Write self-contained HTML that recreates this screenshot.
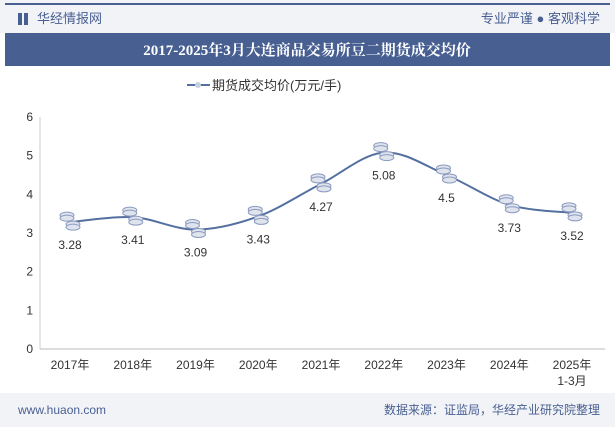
<!DOCTYPE html>
<html><head><meta charset="utf-8"><style>
body{margin:0;width:615px;height:427px;overflow:hidden;background:#fff;font-family:"Liberation Sans","Noto Sans CJK SC",sans-serif;}
</style></head><body>
<svg width="615" height="427" xmlns="http://www.w3.org/2000/svg" id="chart">
<rect x="0" y="0" width="615" height="33" fill="#f2f3f7"/>
<rect x="5" y="3" width="605" height="2" fill="#485f92"/>
<g><rect x="18" y="13" width="4" height="12" fill="#485f92"/><rect x="24" y="13" width="4" height="12" fill="#485f92"/></g>
<text x="37" y="23" font-size="13" fill="#485f92">华经情报网</text>
<text x="600" y="23" font-size="13" fill="#485f92" text-anchor="end">专业严谨 ● 客观科学</text>
<rect x="5" y="33" width="605" height="33" fill="#485f92"/>
<text x="307" y="55" font-size="15" font-weight="bold" fill="#fff" text-anchor="middle" font-family="'Liberation Serif','Noto Serif CJK SC',serif">2017-2025年3月大连商品交易所豆二期货成交均价</text>
<g><line x1="187" y1="85" x2="210" y2="85" stroke="#5470a0" stroke-width="2"/><circle cx="198" cy="85" r="3" fill="#c8d0e0"/><text x="212" y="90" font-size="13" fill="#333">期货成交均价(万元/手)</text></g>
<g id="axes"></g><g id="marks"></g>
<rect x="0" y="393" width="615" height="34" fill="#f2f3f7"/>
<text x="18" y="414" font-size="12" fill="#485f92">www.huaon.com</text>
<text x="600" y="414" font-size="12" fill="#485f92" text-anchor="end">数据来源：证监局，华经产业研究院整理</text>
</svg>
<script>
const categories=["2017年","2018年","2019年","2020年","2021年","2022年","2023年","2024年","2025年"];
const values=[3.28,3.41,3.09,3.43,4.27,5.08,4.5,3.73,3.52];
const yTicks=[0,1,2,3,4,5,6];
const NS="http://www.w3.org/2000/svg";
const x0=70,step=62.75,yBase=349,yPer=(349-117)/6;
const X=i=>x0+i*step, Y=v=>yBase-v*yPer;
function el(t,a,p){const e=document.createElementNS(NS,t);for(const k in a)e.setAttribute(k,a[k]);p.appendChild(e);return e;}
const ax=document.getElementById('axes'),mk=document.getElementById('marks');
yTicks.forEach(t=>{const l=el('text',{x:33,y:Y(t)+4,'font-size':12,fill:'#333','text-anchor':'end'},ax);l.textContent=t;

});
const yl=el('line',{x1:40,y1:117,x2:40,y2:349,stroke:'#ccc'},ax);


const xl=el('line',{x1:40,y1:349,x2:605,y2:349,stroke:'#bbb'},ax);


categories.forEach((c,i)=>{const t=el('text',{x:X(i),y:369,'font-size':12,fill:'#333','text-anchor':'middle'},ax);t.textContent=c;


if(i===categories.length-1){const t2=el('text',{x:X(i),y:385,'font-size':12,fill:'#333','text-anchor':'middle'},ax);t2.textContent="1-3月";

}});
const pts=values.map((v,i)=>[X(i),Y(v)]);
let d=`M${pts[0][0]},${pts[0][1]}`;
for(let i=0;i<pts.length-1;i++){const p0=pts[Math.max(0,i-1)],p1=pts[i],p2=pts[i+1],p3=pts[Math.min(pts.length-1,i+2)];
d+=` C${p1[0]+(p2[0]-p0[0])/6},${p1[1]+(p2[1]-p0[1])/6} ${p2[0]-(p3[0]-p1[0])/6},${p2[1]-(p3[1]-p1[1])/6} ${p2[0]},${p2[1]}`;}
const line=el('path',{d:d,fill:'none',stroke:'#5470a0','stroke-width':2},mk);


pts.forEach((p,i)=>{const g=el('g',{},mk);


[[-3,-7],[-3,-4],[3,2],[3,5]].forEach(o=>el('ellipse',{cx:p[0]+o[0],cy:p[1]+o[1],rx:7,ry:3,fill:'#dfe3ec',stroke:'#8a9ac0','stroke-width':1},g));
const t=el('text',{x:p[0],y:p[1]+27,'font-size':12,fill:'#333','text-anchor':'middle'},mk);t.textContent=values[i];

});
</script>
</body></html>
